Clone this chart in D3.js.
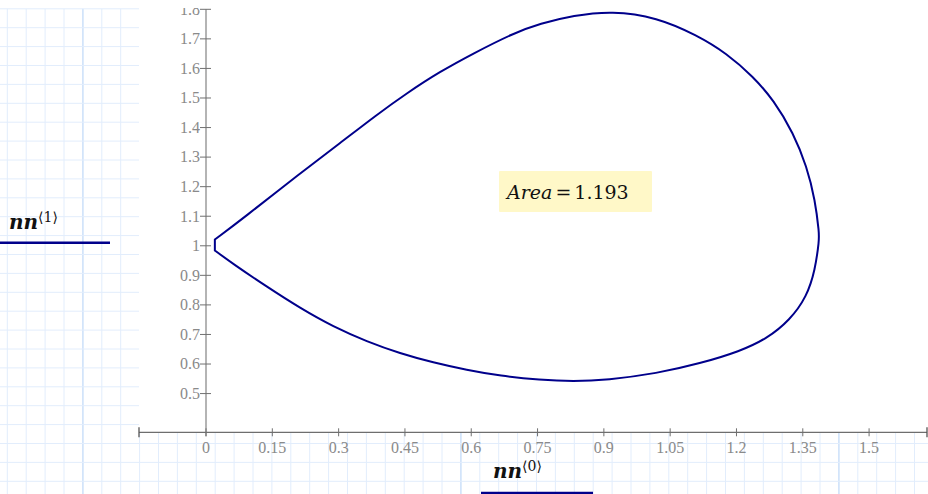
<!DOCTYPE html>
<html>
<head>
<meta charset="utf-8">
<script src="https://cdn.jsdelivr.net/npm/d3@7"></script>
<style>
  body { margin: 0; background: #fff; }
  svg { display: block; }
</style>
</head>
<body>
<div id="chart"></div>
<script>
// curve nn<0> (x) and nn<1> (y), clockwise from the tip
const nn0 = [0.020, 0.084, 0.213, 0.303, 0.386, 0.454, 0.529, 0.605, 0.695,
             0.756, 0.831, 0.918, 1.020, 1.110, 1.178, 1.238, 1.284, 1.329, 1.359,
             1.378, 1.387, 1.387, 1.378, 1.359, 1.321, 1.269, 1.208, 1.118, 1.020,
             0.907, 0.831, 0.756, 0.665, 0.590, 0.514, 0.439, 0.364, 0.288, 0.213,
             0.137, 0.062, 0.020];
const nn1 = [1.021, 1.093, 1.245, 1.347, 1.443, 1.516, 1.589, 1.651, 1.719,
             1.752, 1.779, 1.795, 1.773, 1.713, 1.651, 1.572, 1.493, 1.381, 1.268,
             1.155, 1.042, 1.020, 0.918, 0.828, 0.749, 0.686, 0.643, 0.602, 0.568,
             0.546, 0.541, 0.546, 0.560, 0.580, 0.605, 0.636, 0.676, 0.726, 0.789,
             0.862, 0.938, 0.984];

const xTicks = [0, 0.15, 0.3, 0.45, 0.6, 0.75, 0.9, 1.05, 1.2, 1.35, 1.5];
const xTickLabels = ["0", "0.15", "0.3", "0.45", "0.6", "0.75", "0.9", "1.05", "1.2", "1.35", "1.5"];
const yTicks = [0.5, 0.6, 0.7, 0.8, 0.9, 1, 1.1, 1.2, 1.3, 1.4, 1.5, 1.6, 1.7, 1.8];
const yTickLabels = ["0.5", "0.6", "0.7", "0.8", "0.9", "1", "1.1", "1.2", "1.3", "1.4", "1.5", "1.6", "1.7", "1.8"];
const areaLabel = "1.193";

const width = 928, height = 494;
const plot = { left: 139, right: 927, top: 0, bottom: 432.3 };

const svg = d3.select("#chart").append("svg")
    .attr("width", width)
    .attr("height", height);

// worksheet grid paper
const grid = svg.append("g");
const gx = d3.range(7.3, width, 18.9);
const gy = d3.range(8.8, height, 18.9);
grid.selectAll("line.v").data(gx).enter().append("line")
    .attr("x1", d => d).attr("x2", d => d)
    .attr("y1", 8.8).attr("y2", height)
    .attr("stroke", (d, i) => i % 20 === 4 ? "#cfe2fa" : "#e2edfc")
    .attr("stroke-width", (d, i) => i % 20 === 4 ? 1.6 : 1);
grid.selectAll("line.h").data(gy).enter().append("line")
    .attr("x1", 0).attr("x2", width)
    .attr("y1", d => d).attr("y2", d => d)
    .attr("stroke", "#e2edfc")
    .attr("stroke-width", 1);

// plot region
svg.append("rect")
    .attr("x", plot.left).attr("y", 0)
    .attr("width", width - plot.left).attr("height", plot.bottom)
    .attr("fill", "#fff");

const x = d3.scaleLinear().domain([-0.1516, 1.631]).range([plot.left, plot.right]);
const y = d3.scaleLinear().domain([0.369, 1.8315]).range([plot.bottom, 0]);

// y axis
const yAxis = svg.append("g");
yAxis.append("line")
    .attr("x1", x(0)).attr("x2", x(0))
    .attr("y1", y(1.8)).attr("y2", plot.bottom + 4)
    .attr("stroke", "#b4b4b4").attr("stroke-width", 2);
yAxis.selectAll("line.tick").data(yTicks).enter().append("line")
    .attr("x1", x(0) - 6).attr("x2", x(0) + 5)
    .attr("y1", d => y(d)).attr("y2", d => y(d))
    .attr("stroke", "#707070").attr("stroke-width", 1);
yAxis.selectAll("text").data(yTicks).enter().append("text")
    .attr("x", x(0) - 6)
    .attr("y", d => y(d))
    .attr("dy", "0.33em")
    .attr("text-anchor", "end")
    .attr("font-family", "'Liberation Serif', serif")
    .attr("font-size", 16)
    .attr("fill", "#8a8a8a")
    .text((d, i) => yTickLabels[i]);

// x axis
const xAxis = svg.append("g");
xAxis.append("line")
    .attr("x1", plot.left).attr("x2", plot.right)
    .attr("y1", plot.bottom).attr("y2", plot.bottom)
    .attr("stroke", "#6e6e6e").attr("stroke-width", 1.3);
xAxis.selectAll("line.tick").data(xTicks).enter().append("line")
    .attr("x1", d => x(d)).attr("x2", d => x(d))
    .attr("y1", plot.bottom - 4).attr("y2", plot.bottom + 4)
    .attr("stroke", "#707070").attr("stroke-width", 1);
xAxis.selectAll("line.cap").data([plot.left, plot.right]).enter().append("line")
    .attr("x1", d => d).attr("x2", d => d)
    .attr("y1", plot.bottom - 5).attr("y2", plot.bottom + 5)
    .attr("stroke", "#555").attr("stroke-width", 1.3);
xAxis.selectAll("text").data(xTicks).enter().append("text")
    .attr("x", d => x(d))
    .attr("y", plot.bottom + 21)
    .attr("text-anchor", "middle")
    .attr("font-family", "'Liberation Serif', serif")
    .attr("font-size", 16)
    .attr("fill", "#8a8a8a")
    .text((d, i) => xTickLabels[i]);

// the trace: smooth round the bulb, straight short edge at the tip
const pts = nn0.map((v, i) => [v, nn1[i]]);
const trace = d3.line().x(d => x(d[0])).y(d => y(d[1])).curve(d3.curveBasis);
svg.append("path")
    .datum(pts)
    .attr("d", d => trace(d) + "Z")
    .attr("fill", "none")
    .attr("stroke", "#00008b")
    .attr("stroke-width", 2)
    .attr("stroke-linejoin", "miter");

// area readout
svg.append("rect")
    .attr("x", 499).attr("y", 171)
    .attr("width", 153).attr("height", 41)
    .attr("rx", 1)
    .attr("fill", "#fff8c8");
const at = svg.append("text")
    .attr("x", 507).attr("y", 198.5)
    .attr("font-family", "'DejaVu Serif', serif")
    .attr("font-size", 19)
    .attr("fill", "#111");
at.append("tspan").attr("font-style", "italic").text("Area");
at.append("tspan").attr("dx", 3).text("=");
at.append("tspan").attr("dx", 3).text(areaLabel);

// legend labels (Mathcad style)
function legendLabel(lx, ly, col, lineX1, lineX2, lineY) {
    const t = svg.append("text")
        .attr("x", lx).attr("y", ly)
        .attr("font-family", "'DejaVu Serif', serif")
        .attr("fill", "#111");
    t.append("tspan")
        .attr("font-size", 20).attr("font-style", "italic").attr("font-weight", "bold")
        .text("nn");
    t.append("tspan")
        .attr("font-size", 14).attr("dy", -7).attr("dx", 0)
        .attr("font-family", "'DejaVu Serif', serif")
        .text("\u27E8" + col + "\u27E9");
    svg.append("line")
        .attr("x1", lineX1).attr("x2", lineX2)
        .attr("y1", lineY).attr("y2", lineY)
        .attr("stroke", "#00008b").attr("stroke-width", 2.5);
}
legendLabel(9, 229, 1, 0, 110, 242.7);
legendLabel(493, 477.5, 0, 481, 593, 493);

// top clip band
svg.append("rect")
    .attr("x", 0).attr("y", 0)
    .attr("width", width).attr("height", 8)
    .attr("fill", "#fff");
</script>
</body>
</html>
